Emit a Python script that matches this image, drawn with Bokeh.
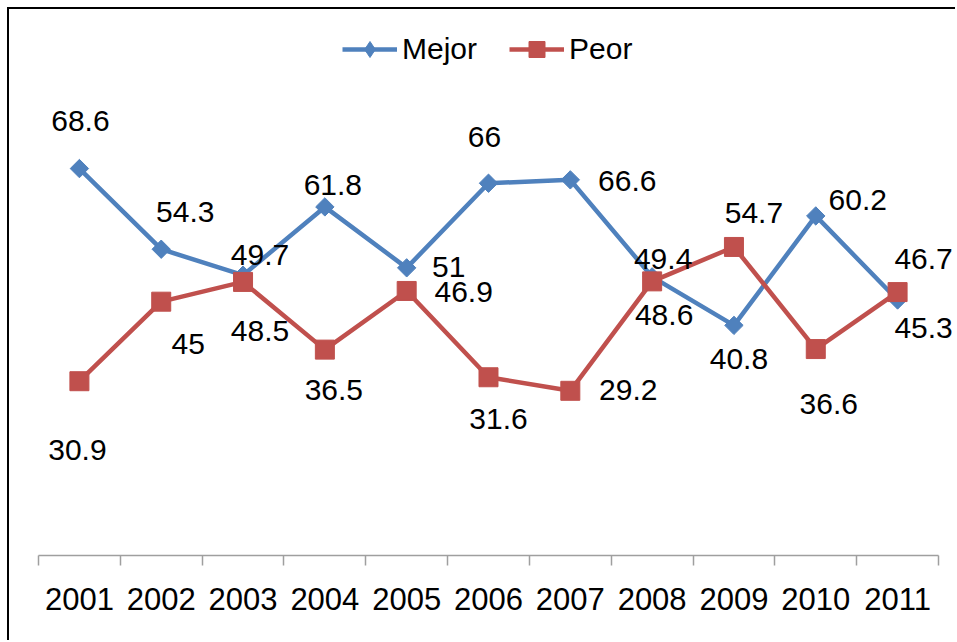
import numpy as np
from bokeh.plotting import figure
from bokeh.models import (ColumnDataSource, LabelSet, FixedTicker, Range1d,
                          Legend, LegendItem)
from bokeh.core.properties import value
from bokeh.embed import file_html
from bokeh.resources import INLINE

# ---- data ----
years = ["2001", "2002", "2003", "2004", "2005", "2006",
         "2007", "2008", "2009", "2010", "2011"]
mejor = [68.6, 54.3, 49.7, 61.8, 51, 66, 66.6, 49.4, 40.8, 60.2, 45.3]
peor = [30.9, 45, 48.5, 36.5, 46.9, 31.6, 29.2, 48.6, 54.7, 36.6, 46.7]
mejor_labels = ["68.6", "54.3", "49.7", "61.8", "51", "66", "66.6", "49.4", "40.8", "60.2", "45.3"]
peor_labels = ["30.9", "45", "48.5", "36.5", "46.9", "31.6", "29.2", "48.6", "54.7", "36.6", "46.7"]

# ---- label placement (pixels, screen-down) ----
mejor_dx = [1, 24, 17, 8, 42, -4, 57, 11, 5, 42, 26]
mejor_dy = [-48, -37, -20, -22, -1, -46, 1, -18, 34, -16, 28]
peor_dx = [-2, 27, 17, 9, 57, 10, 58, 12, 20, 13, 26]
peor_dy = [69, 42, 49, 40, 1, 42, -1, 34, -34, 55, -33]

BLUE = "#4F81BD"
RED = "#C0504D"
FONT = "Liberation Sans"

n = len(years)
centers = [i + 0.5 for i in range(n)]
bounds = list(range(n + 1))

src_m = ColumnDataSource(dict(x=centers, y=mejor, t=mejor_labels,
                              dx=mejor_dx, dy=[-d for d in mejor_dy]))
src_p = ColumnDataSource(dict(x=centers, y=peor, t=peor_labels,
                              dx=peor_dx, dy=[-d for d in peor_dy]))

W, H = 948, 633
# frame runs to the right edge; the axis itself is bounded to the categories
p = figure(width=W, height=H, output_backend="svg", toolbar_location=None,
           x_range=Range1d(0, n + 19 / 81.8), y_range=Range1d(0, 96.8),
           y_axis_location=None,
           min_border_left=29, min_border_right=0, min_border_top=0,
           min_border_bottom=87)
p.styles = {"margin-left": "7px", "margin-top": "7px",
            "border-top": "2px solid #000000", "border-left": "2px solid #000000"}
p.outline_line_color = None
p.xgrid.visible = False
p.ygrid.visible = False
p.background_fill_color = "white"
p.border_fill_color = "white"

ax = p.xaxis[0]
ax.bounds = (0, n)
ax.ticker = FixedTicker(ticks=centers, minor_ticks=bounds)
ax.major_label_overrides = {c: y for c, y in zip(centers, years)}
ax.major_tick_out = 0
ax.major_tick_in = 0
ax.minor_tick_out = 10
ax.minor_tick_in = 0
ax.minor_tick_line_color = "#9F9F9F"
ax.minor_tick_line_width = 1.5
ax.axis_line_color = "#9F9F9F"
ax.axis_line_width = 1.5
ax.major_label_text_font = FONT
ax.major_label_text_font_size = "31px"
ax.major_label_text_color = "#000000"
ax.major_label_standoff = 22

lm = p.line("x", "y", source=src_m, line_color=BLUE, line_width=4.5)
sm = p.scatter("x", "y", source=src_m, marker="square", angle=np.pi / 4,
               size=13, fill_color=BLUE, line_color=BLUE)
lp = p.line("x", "y", source=src_p, line_color=RED, line_width=4.5)
sp = p.scatter("x", "y", source=src_p, marker="square", size=19,
               fill_color=RED, line_color=RED)

# legend-only diamond (Excel-style diamond marker in the legend), hidden in the plot
sm_leg = p.scatter("x", "y", source=src_m, marker="diamond",
                   fill_color=BLUE, line_color=BLUE, visible=False)

for src in (src_m, src_p):
    p.add_layout(LabelSet(x="x", y="y", text="t", source=src,
                          x_offset="dx", y_offset="dy",
                          text_align="center", text_baseline="middle",
                          text_font=value(FONT), text_font_size=value("30px"),
                          text_color="#000000"))

legend = Legend(items=[LegendItem(label="Mejor", renderers=[lm, sm_leg]),
                       LegendItem(label="Peor", renderers=[lp, sp])],
                orientation="horizontal", location=(304, 486),
                glyph_width=55, glyph_height=40, label_standoff=5,
                spacing=32, padding=0, margin=0,
                label_text_font=FONT, label_text_font_size="30px",
                label_text_color="#000000",
                border_line_color=None, background_fill_alpha=0)
p.add_layout(legend, "center")

open("out.html", "w").write(file_html(p, INLINE))
